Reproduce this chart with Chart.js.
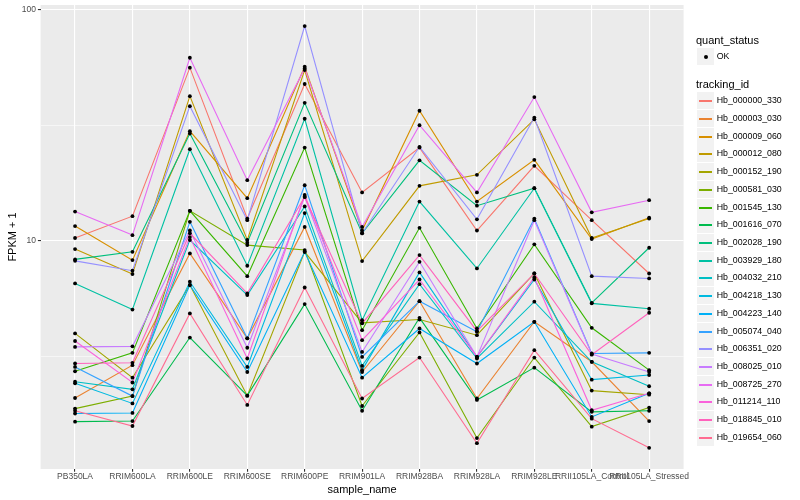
<!DOCTYPE html>
<html><head><meta charset="utf-8">
<script src="https://cdn.jsdelivr.net/npm/chart.js@4.4.1/dist/chart.umd.min.js"></script>
<style>
html,body{margin:0;padding:0;background:#fff;}
#wrap{position:relative;width:800px;height:500px;overflow:hidden;}
canvas{position:absolute;left:0;top:0;}
.lg{position:absolute;font-family:'Liberation Sans',Arial,Helvetica,sans-serif;color:#000;white-space:nowrap;}
.key{position:absolute;background:#F2F2F2;}
</style></head><body>
<div id="wrap"><canvas id="c" width="800" height="500"></canvas><div id="legend"></div></div>
<script>
const categories = ["PB350LA","RRIM600LA","RRIM600LE","RRIM600SE","RRIM600PE","RRIM901LA","RRIM928BA","RRIM928LA","RRIM928LE","RRII105LA_Control","RRII105LA_Stressed"];
const trackingIds = ["Hb_000000_330","Hb_000003_030","Hb_000009_060","Hb_000012_080","Hb_000152_190","Hb_000581_030","Hb_001545_130","Hb_001616_070","Hb_002028_190","Hb_003929_180","Hb_004032_210","Hb_004218_130","Hb_004223_140","Hb_005074_040","Hb_006351_020","Hb_008025_010","Hb_008725_270","Hb_011214_110","Hb_018845_010","Hb_019654_060"];
const seriesColors = ["#F8766D","#EA8331","#D89000","#C09B00","#A3A500","#7CAE00","#39B600","#00BB4E","#00BF7D","#00C1A3","#00BFC4","#00BAE0","#00B0F6","#35A2FF","#9590FF","#C77CFF","#E76BF3","#FA62DB","#FF62BC","#FF6C91"];
const yMajorTicks = [10, 100];
const yMinorTicks = [3.1623, 31.623];

const Hb_000000_330 = [10.3, 12.8, 56.0, 12.5, 47.6, 16.2, 25.3, 11.1, 21.1, 12.3, 7.24];
const Hb_000003_030 = [2.10, 2.91, 8.84, 3.80, 11.5, 2.72, 5.50, 2.09, 4.48, 3.01, 1.67];
const Hb_000009_060 = [11.6, 8.27, 29.8, 15.3, 56.5, 11.1, 36.5, 14.8, 22.4, 10.2, 12.6];
const Hb_000012_080 = [9.23, 7.20, 42.2, 10.1, 54.7, 8.19, 17.3, 19.3, 33.5, 10.3, 12.5];
const Hb_000152_190 = [3.99, 2.57, 6.45, 2.15, 8.98, 4.43, 4.58, 3.92, 7.24, 2.26, 2.17];
const Hb_000581_030 = [1.89, 2.14, 13.5, 9.60, 9.14, 1.94, 4.03, 1.41, 3.14, 1.58, 1.91];
const Hb_001545_130 = [2.74, 3.29, 13.5, 7.05, 25.3, 4.12, 11.4, 4.19, 9.67, 4.22, 2.77];
const Hb_001616_070 = [1.66, 1.67, 3.83, 2.15, 5.34, 1.85, 4.66, 2.06, 2.84, 1.83, 1.85];
const Hb_002028_190 = [8.33, 8.98, 29.1, 9.83, 39.5, 10.8, 22.3, 14.2, 16.9, 5.41, 9.35];
const Hb_003929_180 = [6.56, 5.06, 24.9, 7.82, 33.7, 4.55, 14.8, 7.61, 16.9, 5.38, 5.10];
const Hb_004032_210 = [2.47, 2.29, 10.1, 5.84, 14.1, 2.89, 6.51, 3.11, 5.47, 3.01, 2.36];
const Hb_004218_130 = [2.43, 1.99, 6.67, 2.86, 13.2, 2.77, 7.32, 3.16, 6.82, 2.52, 2.64];
const Hb_004223_140 = [1.80, 1.81, 6.45, 2.72, 8.98, 2.57, 4.19, 2.96, 4.48, 1.74, 2.20];
const Hb_005074_040 = [2.86, 2.14, 12.1, 3.80, 17.4, 3.16, 5.50, 4.06, 12.5, 3.27, 3.29];
const Hb_006351_020 = [8.21, 7.44, 38.2, 12.3, 84.7, 10.8, 25.5, 12.4, 34.1, 7.05, 6.89];
const Hb_008025_010 = [3.49, 3.51, 11.1, 3.46, 15.5, 3.32, 8.13, 3.16, 12.3, 3.25, 2.72];
const Hb_008725_270 = [13.4, 10.6, 61.8, 18.3, 55.6, 11.5, 31.6, 16.2, 41.8, 13.3, 15.0];
const Hb_011214_110 = [3.70, 2.45, 10.4, 3.11, 15.8, 3.73, 6.82, 3.16, 6.96, 1.86, 2.20];
const Hb_018845_010 = [2.96, 2.98, 10.8, 5.94, 15.5, 4.41, 8.69, 4.08, 7.24, 3.23, 4.90];
const Hb_019654_060 = [1.85, 1.59, 4.87, 1.96, 6.30, 2.09, 3.14, 1.34, 3.38, 1.71, 1.28];

const seriesValues = [Hb_000000_330, Hb_000003_030, Hb_000009_060, Hb_000012_080, Hb_000152_190, Hb_000581_030, Hb_001545_130, Hb_001616_070, Hb_002028_190, Hb_003929_180, Hb_004032_210, Hb_004218_130, Hb_004223_140, Hb_005074_040, Hb_006351_020, Hb_008025_010, Hb_008725_270, Hb_011214_110, Hb_018845_010, Hb_019654_060];

const FONT = "'Liberation Sans', Arial, Helvetica, sans-serif";

const datasets = [];
seriesValues.forEach((vals, i) => {
  datasets.push({
    label: trackingIds[i],
    data: vals.map((v, j) => ({x: j, y: v})),
    borderColor: seriesColors[i],
    backgroundColor: seriesColors[i],
    borderWidth: 1.1,
    pointRadius: 0,
    fill: false,
    tension: 0,
    order: 100 - i
  });
});
seriesValues.forEach((vals, i) => {
  datasets.push({
    label: trackingIds[i] + " OK",
    data: vals.map((v, j) => ({x: j, y: v})),
    showLine: false,
    pointRadius: 1.9,
    pointBorderWidth: 0,
    pointBackgroundColor: "#000000",
    pointBorderColor: "#000000",
    order: -1
  });
});

const isMajor = v => yMajorTicks.some(m => Math.abs(m - v) < 1e-6);

const bgPlugin = {
  id: 'panelBg',
  beforeDraw(chart) {
    const {ctx, chartArea: a} = chart;
    ctx.save();
    ctx.fillStyle = '#EBEBEB';
    ctx.fillRect(a.left, a.top, a.right - a.left, a.bottom - a.top);
    ctx.restore();
  }
};

new Chart(document.getElementById('c'), {
  type: 'line',
  data: {datasets},
  plugins: [bgPlugin],
  options: {
    responsive: false,
    animation: false,
    layout: {padding: {left: 0, right: 116.4, top: 5, bottom: 0}},
    plugins: {legend: {display: false}, tooltip: {enabled: false}},
    scales: {
      x: {
        type: 'linear', min: -0.6, max: 10.6,
        afterBuildTicks: s => { s.ticks = categories.map((c, i) => ({value: i})); },
        afterFit: s => { s.height = 31; s.paddingLeft = 0; s.paddingRight = 0; },
        ticks: {autoSkip: false, maxRotation: 0, minRotation: 0, padding: 0, color: '#4D4D4D',
                font: {size: 8.5, family: FONT}, callback: v => categories[v]},
        grid: {color: '#FFFFFF', lineWidth: 1.1, tickLength: 2.7, tickColor: '#333333'},
        border: {display: false},
        title: {display: true, text: 'sample_name', color: '#000', font: {size: 11, family: FONT}, padding: {top: 0, bottom: 3.4}}
      },
      y: {
        type: 'logarithmic', min: 1.037, max: 104.4,
        afterBuildTicks: s => { s.ticks = yMinorTicks.concat(yMajorTicks).sort((a, b) => a - b).map(v => ({value: v})); },
        afterFit: s => { s.width = 40.6; s.paddingTop = 0; s.paddingBottom = 0; },
        ticks: {autoSkip: false, padding: 2, color: '#4D4D4D', font: {size: 8.5, family: FONT},
                callback: v => isMajor(v) ? String(Math.round(v)) : ''},
        grid: {color: '#FFFFFF',
               lineWidth: c => (c.tick && isMajor(c.tick.value)) ? 1.1 : 0.55,
               tickLength: 2.7,
               tickColor: c => (c.tick && isMajor(c.tick.value)) ? '#333333' : 'rgba(0,0,0,0)'},
        border: {display: false},
        title: {display: true, text: 'FPKM + 1', color: '#000', font: {size: 11, family: FONT}, padding: {top: 6.4, bottom: 0}}
      }
    }
  }
});

// legend (ggplot-style)
const lg = document.getElementById('legend');
function addText(txt, left, cy, size) {
  const d = document.createElement('div');
  d.className = 'lg';
  d.textContent = txt;
  const lh = Math.round(size * 1.2);
  d.style.left = left + 'px';
  d.style.fontSize = size + 'px';
  d.style.lineHeight = lh + 'px';
  d.style.top = Math.round(cy - lh / 2) + 'px';
  lg.appendChild(d);
}
function addKey(top) {
  const k = document.createElement('div');
  k.className = 'key';
  k.style.left = '697px'; k.style.top = top + 'px';
  k.style.width = '17px'; k.style.height = '17px';
  lg.appendChild(k);
  return k;
}
addText('quant_status', 696, 40.7, 11);
const okKey = addKey(48);
const dot = document.createElement('div');
dot.style.cssText = 'position:absolute;left:6.5px;top:6.5px;width:4px;height:4px;border-radius:50%;background:#000;';
okKey.appendChild(dot);
addText('OK', 716.7, 56.8, 8.8);
addText('tracking_id', 696, 84.3, 11);
trackingIds.forEach((id, i) => {
  const cy = 100.7 + i * 17.72;
  const k = addKey(Math.round(cy - 8.5));
  const ln = document.createElement('div');
  ln.style.cssText = 'position:absolute;left:2px;width:13px;top:8px;height:2px;background:' + seriesColors[i] + ';';
  k.appendChild(ln);
  addText(id, 716.7, cy, 8.8);
});
</script>
</body></html>
